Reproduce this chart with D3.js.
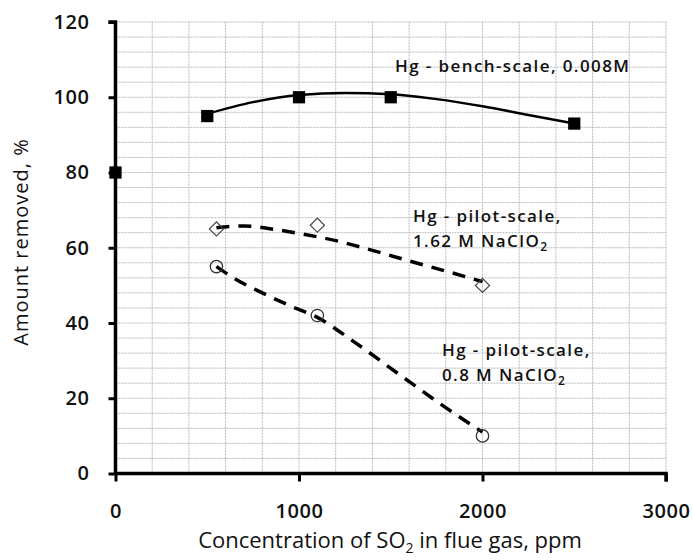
<!DOCTYPE html>
<html>
<head>
<meta charset="utf-8">
<script src="https://cdn.jsdelivr.net/npm/d3@7"></script>
<style>
  html, body { margin: 0; padding: 0; background: #fff; }
  svg { display: block; }
  text { font-family: "Open Sans", "DejaVu Sans", sans-serif; fill: #111; }
</style>
</head>
<body>
<svg id="chart" width="693" height="560"></svg>
<script>
// ---- data ----
const xTicks = [0, 1000, 2000, 3000];
const yTicks = [0, 20, 40, 60, 80, 100, 120];

// Hg - bench-scale, 0.008M (filled squares)
const benchX = [0, 500, 1000, 1500, 2500];
const benchY = [80, 95, 100, 100, 93];
// trend curve drawn through the bench points
const benchFitX = [500, 750, 1000, 1250, 1500, 1750, 2000, 2250, 2500];
const benchFitY = [95.6, 98.7, 100.6, 101.1, 100.8, 99.5, 97.6, 95.3, 93];

// Hg - pilot-scale, 1.62 M NaClO2 (open diamonds)
const pilot162X = [550, 1100, 2000];
const pilot162Y = [65, 66, 50];
const pilot162FitX = [550, 700, 850, 1000, 1200, 1400, 1600, 1800, 2000];
const pilot162FitY = [65.3, 65.8, 65.0, 63.8, 61.9, 59.3, 56.5, 53.8, 51];

// Hg - pilot-scale, 0.8 M NaClO2 (open circles)
const pilot08X = [550, 1100, 2000];
const pilot08Y = [55, 42, 10];
const pilot08FitX = [550, 650, 800, 950, 1100, 1300, 1550, 1800, 2000];
const pilot08FitY = [55, 51.8, 48, 44.6, 41.5, 35, 26.2, 17.5, 11];

// ---- chart ----
const svg = d3.select("#chart");
const x = d3.scaleLinear().domain([0, 3000]).range([115.5, 666]);
const y = d3.scaleLinear().domain([0, 120]).range([473.5, 22]);

// grid (dotted)
const grid = svg.append("g").attr("stroke", "#b8b8b8").attr("stroke-width", 1)
  .attr("stroke-dasharray", "2,1").attr("fill", "none");
d3.range(200, 3001, 200).forEach(v => {
  grid.append("line").attr("x1", x(v)).attr("x2", x(v)).attr("y1", y(0)).attr("y2", y(120));
});
d3.range(4, 121, 4).forEach(v => {
  grid.append("line").attr("x1", x(0)).attr("x2", x(3000)).attr("y1", y(v)).attr("y2", y(v));
});

// axes
const axL = svg.append("g").attr("transform", `translate(${x(0)},0)`)
  .call(d3.axisLeft(y).tickValues(yTicks).tickSize(7).tickPadding(19).tickFormat(d3.format("d")));
const axB = svg.append("g").attr("transform", `translate(0,${y(0)})`)
  .call(d3.axisBottom(x).tickValues(xTicks).tickSize(8).tickPadding(22).tickFormat(d3.format("d")));
[axL, axB].forEach(ax => {
  ax.select(".domain").attr("stroke", "#000").attr("stroke-width", 3.5);
  ax.selectAll(".tick line").attr("stroke", "#000").attr("stroke-width", 3);
  ax.selectAll(".tick text").attr("font-family", "Open Sans").attr("font-weight", 600)
    .attr("font-size", 20).attr("letter-spacing", 0.6).attr("fill", "#111");
});
axL.select(".domain").attr("d", `M-7,${y(120)}H0V${y(0)}`);
axB.select(".domain").attr("d", `M${x(0)},0H${x(3000)}V8`);

// lines
const line = d3.line().x(d => x(d[0])).y(d => y(d[1])).curve(d3.curveMonotoneX);
svg.append("path").datum(d3.zip(benchFitX, benchFitY)).attr("d", line)
  .attr("fill", "none").attr("stroke", "#000").attr("stroke-width", 2.5);
svg.append("path").datum(d3.zip(pilot162FitX, pilot162FitY)).attr("d", line)
  .attr("fill", "none").attr("stroke", "#000").attr("stroke-width", 3.5).attr("stroke-dasharray", "13,9");
svg.append("path").datum(d3.zip(pilot08FitX, pilot08FitY)).attr("d", line)
  .attr("fill", "none").attr("stroke", "#000").attr("stroke-width", 3.5).attr("stroke-dasharray", "13,9");

// markers
svg.append("g").selectAll("path").data(d3.zip(benchX, benchY)).join("path")
  .attr("transform", d => `translate(${x(d[0])},${y(d[1])})`)
  .attr("d", d3.symbol(d3.symbolSquare, 150)).attr("fill", "#000");
svg.append("g").selectAll("path").data(d3.zip(pilot162X, pilot162Y)).join("path")
  .attr("transform", d => `translate(${x(d[0])},${y(d[1])}) rotate(45)`)
  .attr("d", d3.symbol(d3.symbolSquare, 100)).attr("fill", "none")
  .attr("stroke", "#444").attr("stroke-width", 1.2);
svg.append("g").selectAll("path").data(d3.zip(pilot08X, pilot08Y)).join("path")
  .attr("transform", d => `translate(${x(d[0])},${y(d[1])})`)
  .attr("d", d3.symbol(d3.symbolCircle, 120)).attr("fill", "none")
  .attr("stroke", "#333").attr("stroke-width", 1.3);

// annotations
function label(xp, yp, parts) {
  const size = 17;
  const t = svg.append("text").attr("x", xp).attr("y", yp)
    .attr("font-size", size).attr("font-weight", 600).attr("letter-spacing", 1.4).attr("fill", "#111");
  parts.forEach(p => {
    const s = t.append("tspan").text(p.t);
    if (p.sub) s.attr("font-size", 12).attr("dy", 4);
  });
  return t;
}
label(395, 72, [{t: "Hg - bench-scale, 0.008M"}]);
label(413, 222, [{t: "Hg - pilot-scale,"}]);
label(413, 247, [{t: "1.62 M NaClO"}, {t: "2", sub: true}]);
label(442, 356, [{t: "Hg - pilot-scale,"}]);
label(442, 381, [{t: "0.8 M NaClO"}, {t: "2", sub: true}]);

// axis titles
const xt = svg.append("text").attr("x", 390).attr("y", 548).attr("text-anchor", "middle")
  .attr("font-size", 22).attr("fill", "#111");
xt.append("tspan").text("Concentration of SO");
xt.append("tspan").text("2").attr("font-size", 14).attr("dy", 5);
xt.append("tspan").text(" in flue gas, ppm").attr("dy", -5);

svg.append("text").attr("transform", "translate(27.5,242) rotate(-90)")
  .attr("text-anchor", "middle").attr("font-size", 20).attr("letter-spacing", 1).attr("fill", "#111")
  .text("Amount removed, %");
</script>
</body>
</html>
